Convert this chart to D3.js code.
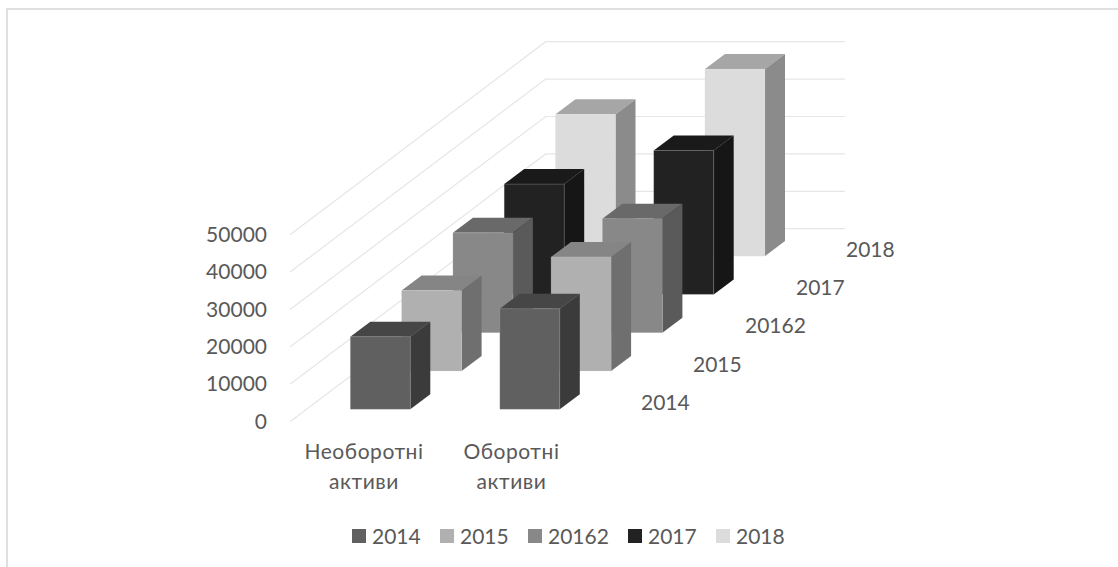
<!DOCTYPE html>
<html>
<head>
<meta charset="utf-8">
<script src="https://cdnjs.cloudflare.com/ajax/libs/d3/7.8.5/d3.min.js"></script>
<style>
html,body{margin:0;padding:0;background:#fff;}
svg{display:block;}
text{font-family:Lato,"Noto Sans",sans-serif;fill:#595959;font-size:21px;}
</style>
</head>
<body>
<svg id="chart" width="1118" height="567"></svg>
<script>
const categories = ["Необоротні активи", "Оборотні активи"];
const seriesNames = ["2014", "2015", "20162", "2017", "2018"];
const values2014 = [19400, 26900];
const values2015 = [21500, 30500];
const values2016 = [26700, 30500];
const values2017 = [29500, 38500];
const values2018 = [37900, 50000];
const seriesValues = [values2014, values2015, values2016, values2017, values2018];
const yTicks = [0, 10000, 20000, 30000, 40000, 50000];
const faceColors = ["#606060", "#b0b0b0", "#888888", "#222222", "#dcdcdc"];
const topColors = ["#464646", "#858585", "#696969", "#1a1a1a", "#a6a6a6"];
const sideColors = ["#3b3b3b", "#6f6f6f", "#5a5a5a", "#161616", "#8b8b8b"];

const svg = d3.select("#chart");

// Oblique projection: x runs across, y up the wall, depth recedes up and to the right.
const x = d3.scaleLinear().domain([0, 1]).range([350.3, 499.8]);
const y = d3.scaleLinear().domain([0, 50000]).range([0, 187]);
const depthX = d3.scaleLinear().domain([0, 1]).range([0, 51.3]);
const depthY = d3.scaleLinear().domain([0, 1]).range([409.3, 371]);
const barW = 60, capX = 20, capY = 15;

// Chart frame: only the top and left edges fall inside the canvas
svg.append("path")
  .attr("d", d3.line()([[7, 567], [7, 9], [1118, 9]]))
  .attr("fill", "none").attr("stroke", "#e0e0e0").attr("stroke-width", 2);

// Gridlines across the floor and back wall
const wallLeft = 545.7, wallRight = 845, frontLeft = 290;
const gridY = v => 421.7 - y(v);
const backY = v => 228.7 - y(v);
const grid = svg.append("g").attr("fill", "none").attr("stroke", "#e6e6e6").attr("stroke-width", 1.2);
yTicks.forEach(t => {
  grid.append("path").attr("d", d3.line()([
    [frontLeft, gridY(t)], [wallLeft, backY(t)], [wallRight, backY(t)]
  ]));
});

// Value axis labels
svg.append("g").selectAll("text").data(yTicks).join("text")
  .attr("x", 267).attr("y", d => gridY(d) + 7)
  .attr("text-anchor", "end").text(d => d);

// Bars, farthest row first
d3.range(seriesNames.length - 1, -1, -1).forEach(s => {
  categories.forEach((c, i) => {
    const v = seriesValues[s][i];
    const x0 = x(i) + depthX(s), x1 = x0 + barW;
    const yb = depthY(s), yt = yb - y(v);
    const g = svg.append("g");
    g.append("polygon").attr("fill", topColors[s])
      .attr("points", [[x0, yt], [x0 + capX, yt - capY], [x1 + capX, yt - capY], [x1, yt]].join(" "));
    g.append("polygon").attr("fill", sideColors[s])
      .attr("points", [[x1, yt], [x1 + capX, yt - capY], [x1 + capX, yb - capY], [x1, yb]].join(" "));
    g.append("rect").attr("x", x0).attr("y", yt).attr("width", barW).attr("height", yb - yt)
      .attr("fill", faceColors[s])
      .attr("stroke", "#d9d9d9").attr("stroke-opacity", 0.18);
  });
});

// Series labels along the depth axis
const depthLabelX = [641, 693, 745, 796, 846];
svg.append("g").selectAll("text").data(seriesNames).join("text")
  .attr("x", (d, i) => depthLabelX[i]).attr("y", (d, i) => depthY(i) + 0.7)
  .text(d => d);

// Category labels, wrapped on two lines
const catCenters = [364, 511.5];
categories.forEach((c, i) => {
  const t = svg.append("text").attr("text-anchor", "middle").attr("letter-spacing", 0.55);
  c.split(" ").forEach((w, k) => {
    t.append("tspan").attr("x", catCenters[i]).attr("y", 459 + k * 30).text(w);
  });
});

// Legend
const legendX = [352, 440, 528, 628, 716];
const legend = svg.append("g").selectAll("g").data(seriesNames).join("g")
  .attr("transform", (d, i) => `translate(${legendX[i]},529)`);
legend.append("rect").attr("width", 14).attr("height", 14).attr("fill", (d, i) => faceColors[i]);
legend.append("text").attr("x", 20).attr("y", 14.5).text(d => d);
</script>
</body>
</html>
